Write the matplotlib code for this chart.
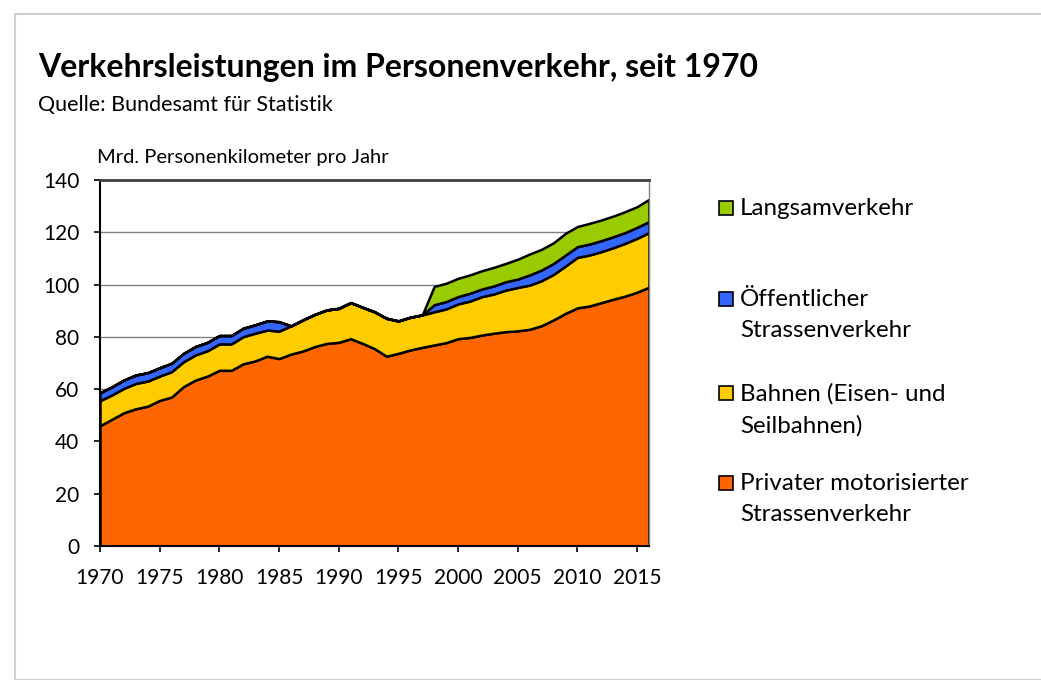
import matplotlib

matplotlib.use("Agg")
import matplotlib.pyplot as plt
from matplotlib.patches import Rectangle

W, H = 1041, 680
FONT = "Lato"

years = list(range(1970, 2017))

# Mrd. Personenkilometer pro Jahr
private = [46.0, 48.5, 51.0, 52.5, 53.5, 55.7, 57.0, 61.0, 63.5, 65.0,
           67.2, 67.2, 69.7, 70.8, 72.6, 71.7, 73.4, 74.6, 76.3, 77.5,
           77.9, 79.3, 77.5, 75.5, 72.6, 73.7, 75.0, 76.0, 76.9, 77.8,
           79.3, 79.8, 80.7, 81.4, 82.0, 82.3, 82.9, 84.3, 86.5, 89.0,
           91.1, 91.8, 93.1, 94.4, 95.6, 97.1, 99.0]
rail = [9.6, 9.3, 9.3, 9.7, 9.6, 9.3, 9.7, 9.5, 9.6, 9.7,
        10.1, 10.1, 10.4, 10.6, 10.0, 10.5, 10.8, 11.9, 12.3, 12.8,
        13.0, 13.8, 13.8, 14.1, 14.5, 12.4, 12.5, 12.4, 12.7, 12.9,
        13.3, 13.9, 14.7, 15.0, 15.9, 16.6, 16.9, 17.2, 17.4, 18.1,
        19.3, 19.5, 19.5, 19.7, 20.2, 20.6, 20.9]
public_road = [3.0, 3.1, 3.2, 3.2, 3.2, 3.2, 3.2, 3.2, 3.2, 3.2,
               3.2, 3.2, 3.2, 3.2, 3.5, 3.6, 0, 0, 0, 0,
               0, 0, 0, 0, 0, 0, 0, 0, 2.7, 2.8,
               2.8, 3.0, 2.9, 3.1, 3.2, 3.2, 3.9, 4.1, 4.2, 4.2,
               4.1, 4.2, 4.2, 4.2, 4.1, 4.2, 4.2]
slow = [0] * 28 + [7.0, 7.0, 7.0, 7.0, 7.0, 7.1, 7.0, 7.6, 8.0, 7.9,
                   7.9, 8.3, 7.7, 7.9, 7.9, 7.9, 8.0, 7.9, 8.5]

series = [private, rail, public_road, slow]
labels = ["Privater motorisierter\nStrassenverkehr",
          "Bahnen (Eisen- und\nSeilbahnen)",
          "Öffentlicher\nStrassenverkehr",
          "Langsamverkehr"]
colors = ["#FF6600", "#FFCC00", "#3366FF", "#99CC00"]
legend_y = [483, 393, 299, 208]


def fx(x):
    return x / W


def fy(y):
    return 1 - y / H


fig = plt.figure(figsize=(W / 100, H / 100), dpi=100)
plt.rcParams["font.family"] = [FONT, "DejaVu Sans"]

# light outer frame
fig.patches.append(Rectangle((fx(15), 0), 1.2, fy(14), transform=fig.transFigure,
                             fill=False, edgecolor="#d0d0d0", linewidth=1.5))

ax = fig.add_axes([fx(100), fy(546), fx(649) - fx(100), fy(180) - fy(546)])
ax.stackplot(years, *series, colors=colors, edgecolor="black", linewidth=1.8)

ax.set_xlim(1970, 2016)
ax.set_ylim(0, 140)
ax.set_xticks(range(1970, 2016, 5))
ax.set_yticks(range(0, 141, 20))
ax.tick_params(labelsize=15, length=4, width=1.2, color="black", direction="out")
ax.tick_params(axis="x", pad=12)
ax.tick_params(axis="y", pad=11)
ax.yaxis.grid(True, color="#808080", linewidth=1)
ax.set_axisbelow(True)
for side in ("left", "bottom"):
    ax.spines[side].set_color("black")
    ax.spines[side].set_linewidth(1.5)
ax.spines["top"].set_color("#404040")
ax.spines["top"].set_linewidth(2)
ax.spines["right"].set_color("#808080")
ax.spines["right"].set_linewidth(1)

fig.text(fx(38), fy(67), "Verkehrsleistungen im Personenverkehr, seit 1970",
         fontsize=23, fontweight="bold", va="center", ha="left")
fig.text(fx(38), fy(105), "Quelle: Bundesamt für Statistik",
         fontsize=15.5, va="center", ha="left")
fig.text(fx(97), fy(157), "Mrd. Personenkilometer pro Jahr",
         fontsize=14.5, va="center", ha="left")

# legend, top entry first, marker aligned with first text line
for lab, col, y in zip(labels, colors, legend_y):
    fig.patches.append(Rectangle((fx(719), fy(y + 7)), 14 / W, 14 / H,
                                 transform=fig.transFigure, facecolor=col,
                                 edgecolor="black", linewidth=1.2))
    fig.text(fx(740), fy(y - 10), lab, fontsize=17.4, va="top", ha="left",
             linespacing=1.6)

fig.savefig("out.png", dpi=100)
